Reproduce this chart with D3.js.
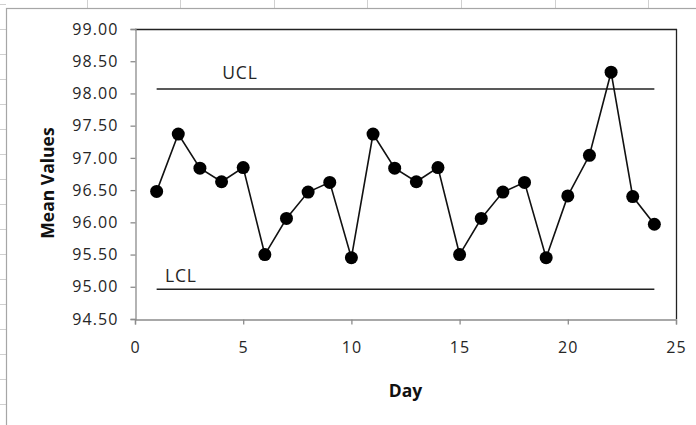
<!DOCTYPE html>
<html>
<head>
<meta charset="utf-8">
<script src="https://cdn.jsdelivr.net/npm/d3@7"></script>
<style>
  html, body { margin: 0; padding: 0; background: #fff; }
  svg { display: block; }
  text { font-family: "Open Sans", "Liberation Sans", sans-serif; }
</style>
</head>
<body>
<svg id="chart" width="696" height="425"></svg>
<script>
const days = [1,2,3,4,5,6,7,8,9,10,11,12,13,14,15,16,17,18,19,20,21,22,23,24];
const means = [96.48,97.37,96.84,96.63,96.85,95.50,96.06,96.47,96.62,95.45,97.37,96.84,96.63,96.85,95.50,96.06,96.47,96.62,95.45,96.41,97.04,98.33,96.40,95.97];
const uclValue = 98.07;
const lclValue = 94.96;
const yTicks = [94.5,95,95.5,96,96.5,97,97.5,98,98.5,99];
const xTicks = [0,5,10,15,20,25];
const controlLabels = ["UCL", "LCL"];

const svg = d3.select("#chart");
const W = 696, H = 425;

// spreadsheet background grid
const colLines = [87,180,274,367,461,555,648];
svg.selectAll("line.col").data(colLines).enter().append("line")
  .attr("x1", d => d + 0.5).attr("x2", d => d + 0.5).attr("y1", 0).attr("y2", 8)
  .attr("stroke", "#d0d0d0").attr("stroke-width", 1);
const rowLines = d3.range(4, H, 25);
svg.selectAll("line.row").data(rowLines).enter().append("line")
  .attr("x1", 0).attr("x2", 6).attr("y1", d => d + 0.5).attr("y2", d => d + 0.5)
  .attr("stroke", "#d0d0d0").attr("stroke-width", 1);

// chart area border
svg.append("rect").attr("x", 6.5).attr("y", 8.5).attr("width", W + 10).attr("height", H + 10)
  .attr("fill", "#fff").attr("stroke", "#a6a6a6").attr("stroke-width", 1.2);

const plot = { left: 135, right: 676, top: 29, bottom: 319 };
const x = d3.scaleLinear().domain([0, 25]).range([plot.left, plot.right]);
const y = d3.scaleLinear().domain([94.5, 99]).range([plot.bottom, plot.top]);

// plot area: top & right black
svg.append("line").attr("x1", plot.left).attr("x2", plot.right + 1).attr("y1", plot.top + 0.5).attr("y2", plot.top + 0.5)
  .attr("stroke", "#222").attr("stroke-width", 1.3);
svg.append("line").attr("x1", plot.right + 0.5).attr("x2", plot.right + 0.5).attr("y1", plot.top).attr("y2", plot.bottom)
  .attr("stroke", "#222").attr("stroke-width", 1.3);

// axes
const yAxis = d3.axisLeft(y).tickValues(yTicks).tickFormat(d3.format(".2f")).tickSize(5).tickPadding(12);
const gy = svg.append("g").attr("transform", `translate(${plot.left + 0.5},0)`).call(yAxis);
const xAxis = d3.axisBottom(x).tickValues(xTicks).tickFormat(d3.format("d")).tickSize(5).tickPadding(17);
const gx = svg.append("g").attr("transform", `translate(0,${plot.bottom + 0.5})`).call(xAxis);
[gx, gy].forEach(g => {
  g.select(".domain").attr("stroke", "#8c8c8c").attr("stroke-width", 1.3);
  g.selectAll(".tick line").attr("stroke", "#8c8c8c").attr("stroke-width", 1.3);
  g.selectAll(".tick text").attr("fill", "#262626").style("font-size", "16px")
    .style("letter-spacing", "1.1px").style("font-family", '"Open Sans", sans-serif');
});

// control limit lines
const limits = [uclValue, lclValue];
svg.selectAll("line.limit").data(limits).enter().append("line")
  .attr("x1", x(days[0])).attr("x2", x(days[days.length - 1]))
  .attr("y1", d => y(d)).attr("y2", d => y(d))
  .attr("stroke", "#222").attr("stroke-width", 1.5);

svg.append("text").text(controlLabels[0]).attr("x", x(4.85)).attr("y", y(uclValue) - 10)
  .attr("text-anchor", "middle").attr("fill", "#262626").style("font-size", "17.5px").style("letter-spacing", "0.8px");
svg.append("text").text(controlLabels[1]).attr("x", x(2.12)).attr("y", y(lclValue) - 7.5)
  .attr("text-anchor", "middle").attr("fill", "#262626").style("font-size", "17.5px").style("letter-spacing", "0.8px");

// data line + markers
const line = d3.line().x((d, i) => x(days[i])).y(d => y(d));
svg.append("path").datum(means).attr("d", line)
  .attr("fill", "none").attr("stroke", "#111").attr("stroke-width", 1.6);
svg.selectAll("circle.pt").data(means).enter().append("circle")
  .attr("cx", (d, i) => x(days[i])).attr("cy", d => y(d)).attr("r", 6.5)
  .attr("fill", "#000");

// axis titles
svg.append("text").text("Day").attr("x", (plot.left + plot.right) / 2).attr("y", 397)
  .attr("text-anchor", "middle").attr("fill", "#111").style("font-size", "17.5px").style("font-weight", "bold");
svg.append("text").text("Mean Values")
  .attr("transform", `translate(54,183) rotate(-90)`)
  .attr("text-anchor", "middle").attr("fill", "#111").style("font-size", "17.5px").style("font-weight", "bold");
</script>
</body>
</html>
